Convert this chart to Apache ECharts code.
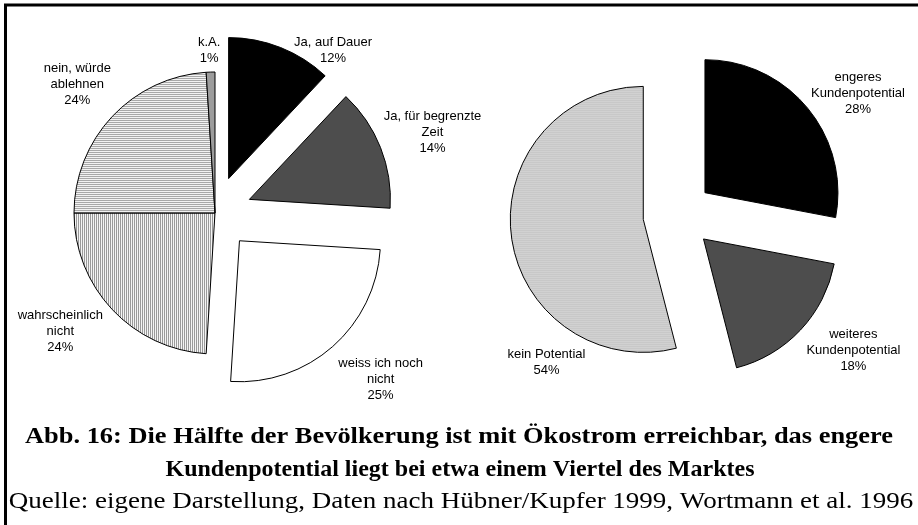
<!DOCTYPE html>
<html>
<head>
<meta charset="utf-8">
<script src="https://cdn.jsdelivr.net/npm/echarts@6/dist/echarts.min.js"></script>
<style>
  html, body { margin: 0; padding: 0; background: #fff; }
  #chart { width: 918px; height: 525px; }
</style>
</head>
<body>
<div id="chart"></div>
<script>
// Daten: Akzeptanz von Ökostrom (links) und Kundenpotential (rechts)
var leftNames = ['Ja, auf Dauer', 'Ja, für begrenzte\nZeit', 'weiss ich noch\nnicht', 'wahrscheinlich\nnicht', 'nein, würde\nablehnen', 'k.A.'];
var leftValues = [12, 14, 25, 24, 24, 1];
var leftExploded = [true, true, true, false, false, false];

var rightNames = ['engeres\nKundenpotential', 'weiteres\nKundenpotential', 'kein Potential'];
var rightValues = [28, 18, 54];

var captionLines = [
    'Abb. 16: Die Hälfte der Bevölkerung ist mit Ökostrom erreichbar, das engere',
    'Kundenpotential liegt bei etwa einem Viertel des Marktes'
];
var captionSource = 'Quelle: eigene Darstellung, Daten nach Hübner/Kupfer 1999, Wortmann et al. 1996';

// Excel "best fit" Beschriftung, Verschiebung gegenüber ECharts-Standard
var leftNudge = [[42, 17], [33, -10], [33, 22], [-36, 12], [-19, -22], [4, -7]];
var rightNudge = [[34, -5], [37, 10], [55, 124]];

function makePattern(vertical, line, bg, period) {
    var c = document.createElement('canvas');
    c.width = vertical ? period : 4;
    c.height = vertical ? 4 : period;
    var ctx = c.getContext('2d');
    ctx.fillStyle = bg;
    ctx.fillRect(0, 0, c.width, c.height);
    ctx.fillStyle = line;
    if (vertical) ctx.fillRect(0, 0, 1, c.height);
    else ctx.fillRect(0, 0, c.width, 1);
    return { image: c, repeat: 'repeat' };
}

var hLines = makePattern(false, '#a8a8a8', '#f2f2f2', 2);
var vLines = makePattern(true, '#9a9a9a', '#f4f4f4', 2);

var leftColors = ['#000000', '#4d4d4d', '#ffffff', vLines, hLines, '#9c9c9c'];
var rightColors = ['#000000', '#4d4d4d', hLines];

var labelStyle = {
    show: true,
    position: 'outside',
    formatter: '{b}\n{d}%',
    distanceToLabelLine: 5,
    fontFamily: 'Liberation Sans, Arial, sans-serif',
    fontSize: 13,
    lineHeight: 16,
    color: '#000'
};

function buildData(names, values, colors, exploded) {
    var out = [];
    for (var i = 0; i < names.length; i++) {
        out.push({
            name: names[i],
            value: values[i],
            selected: exploded ? exploded[i] : true,
            itemStyle: { color: colors[i] }
        });
    }
    return out;
}

function pieSeries(data, center, radius, offset, nudge) {
    return {
        type: 'pie',
        center: center,
        radius: radius,
        startAngle: 90,
        clockwise: true,
        selectedMode: 'multiple',
        selectedOffset: offset,
        avoidLabelOverlap: false,
        animation: false,
        emphasis: { disabled: true },
        itemStyle: { borderColor: '#000', borderWidth: 1 },
        select: { itemStyle: { borderColor: '#000', borderWidth: 1 } },
        label: labelStyle,
        labelLine: { show: false, length: 15, length2: 0 },
        labelLayout: function (p) {
            var n = nudge[p.dataIndex];
            return { align: 'center', verticalAlign: 'middle', dx: n[0], dy: n[1] };
        },
        data: data
    };
}

function captionText(text, x, y, bold, stretch) {
    return {
        type: 'text',
        x: x,
        y: y,
        scaleX: stretch,
        silent: true,
        style: {
            text: text,
            fill: '#000',
            font: (bold ? 'bold ' : '') + '24px "Liberation Serif", "Times New Roman", serif',
            textAlign: 'center',
            textVerticalAlign: 'middle'
        }
    };
}

var chart = echarts.init(document.getElementById('chart'));

var option = {
    backgroundColor: '#fff',
    animation: false,
    graphic: [
        {
            type: 'polyline',
            shape: { points: [[5.5, 525], [5.5, 5], [918, 5]] },
            style: { stroke: '#000', lineWidth: 3, fill: null }
        },
        captionText(captionLines[0], 459, 437, true, 1.1),
        captionText(captionLines[1], 460, 470, true, 1.0),
        captionText(captionSource, 461, 502, false, 1.125)
    ],
    series: [
        pieSeries(buildData(leftNames, leftValues, leftColors, leftExploded), [215, 213], 141, 37, leftNudge),
        pieSeries(buildData(rightNames, rightValues, rightColors, null), [678, 215], 133, 35, rightNudge)
    ]
};

chart.setOption(option);
</script>
</body>
</html>
